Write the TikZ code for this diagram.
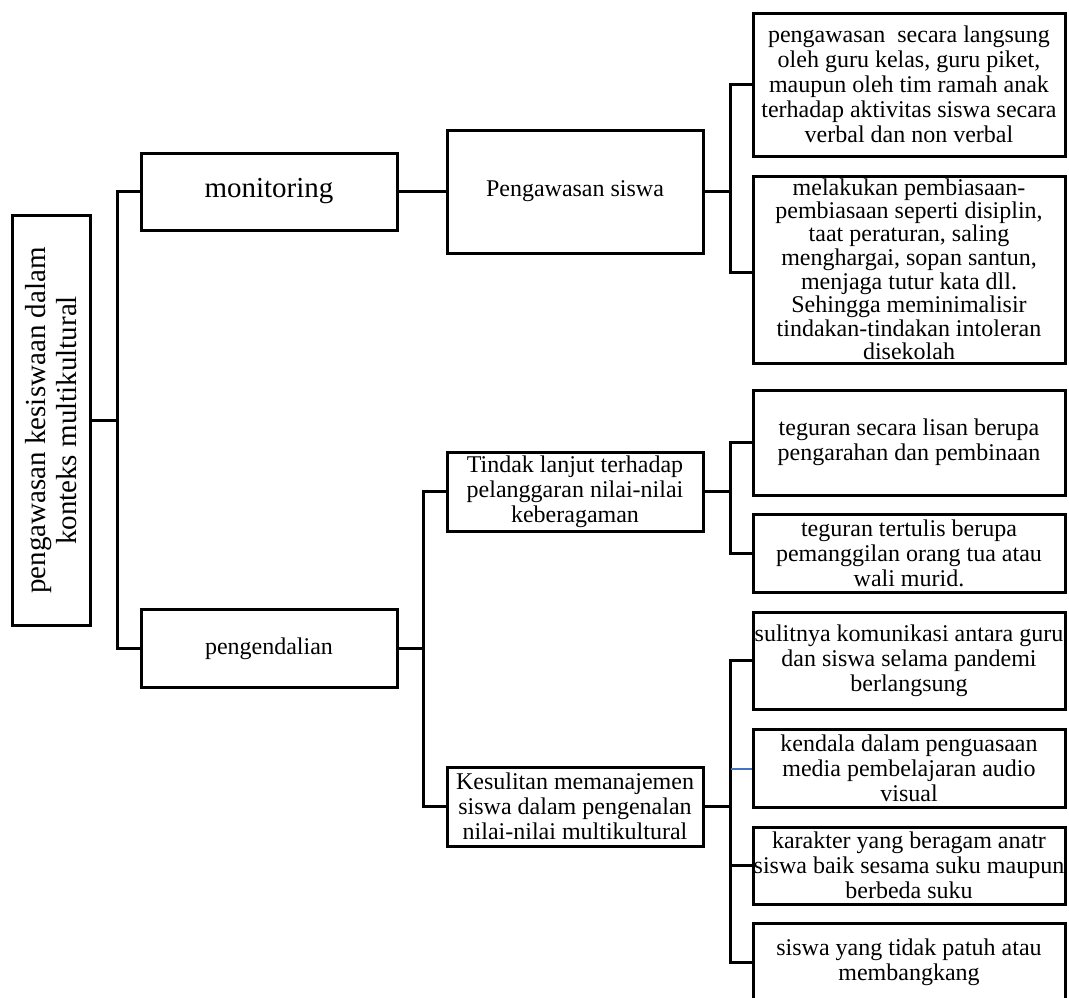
\documentclass[tikz,border=0pt]{standalone}
\usepackage{fontspec}
\setmainfont{Liberation Serif}
\definecolor{linkblue}{HTML}{4472C4}
\begin{document}
\begin{tikzpicture}[x=1pt,y=-1pt,
  box/.style={draw, line width=3pt, inner sep=0pt, align=center, font=\fontsize{24}{25}\selectfont},
  big/.style={font=\fontsize{29}{31}\selectfont},
  conn/.style={line width=3pt},
  connb/.style={line width=2pt, draw=linkblue}]
\useasboundingbox (0,0) rectangle (1069,997);

% level 0
\node[box, big, rotate=90, minimum width=410, minimum height=78] (root) at (51,420.5)
  {pengawasan kesiswaan dalam\\konteks multikultural};

% level 1
\node[box, big, minimum width=256, minimum height=77] (mon) at (269,191.5) {monitoring};
\node[box, minimum width=256, minimum height=78] (pen) at (269,648.5) {pengendalian};

% level 2
\node[box, minimum width=256, minimum height=123] (pws) at (575,191.5) {Pengawasan siswa};
\node[box, minimum width=256, minimum height=79] (tin) at (575,491.5)
  {Tindak lanjut terhadap\\pelanggaran nilai-nilai\\keberagaman};
\node[box, minimum width=256, minimum height=79] (kes) at (575,806.5)
  {Kesulitan memanajemen\\siswa dalam pengenalan\\nilai-nilai multikultural};

% level 3
\node[box, minimum width=312, minimum height=143] (r1) at (909,84.5)
  {pengawasan\ \ secara langsung\\oleh guru kelas, guru piket,\\maupun oleh tim ramah anak\\terhadap aktivitas siswa secara\\verbal dan non verbal};
\node[box, minimum width=312, minimum height=187, inner ysep=-8pt,
      font=\fontsize{24}{23.6}\selectfont] (r2) at (909,269.5)
  {\raisebox{-3pt}{melakukan pembiasaan-}\\pembiasaan seperti disiplin,\\taat peraturan, saling\\menghargai, sopan santun,\\menjaga tutur kata dll.\\Sehingga meminimalisir\\tindakan-tindakan intoleran\\disekolah};
\node[box, minimum width=312, minimum height=105] (r3) at (909,442.5)
  {teguran secara lisan berupa\\pengarahan dan pembinaan};
\node[box, minimum width=312, minimum height=78] (r4) at (909,553.5)
  {teguran tertulis berupa\\pemanggilan orang tua atau\\wali murid.};
\node[box, minimum width=312, minimum height=97] (r5) at (909,660.5)
  {sulitnya komunikasi antara guru\\dan siswa selama pandemi\\berlangsung};
\node[box, minimum width=312, minimum height=78] (r6) at (909,768.5)
  {kendala dalam penguasaan\\media pembelajaran audio\\visual};
\node[box, minimum width=312, minimum height=77] (r7) at (909,865.5)
  {karakter yang beragam anatr\\siswa baik sesama suku maupun\\berbeda suku};
\node[box, minimum width=312, minimum height=79] (r8) at (909,962.5)
  {siswa yang tidak patuh atau\\membangkang};

% connectors
\draw[conn] (root.south) -- ++(26,0) |- (mon.west);
\draw[conn] (root.south) -- ++(26,0) |- (pen.west);
\draw[conn] (mon.east) -- (pws.west);
\draw[conn] (pws.east) -- ++(26,0) |- ([yshift=-3pt]r2.west);
\draw[conn] (pws.east) -- ++(26,0) |- (r1.west);
\draw[conn] (pen.east) -- ++(25,0) |- (tin.west);
\draw[conn] (pen.east) -- ++(25,0) |- (kes.west);
\draw[conn] (tin.east) -- ++(26,0) |- (r3.west);
\draw[conn] (tin.east) -- ++(26,0) |- (r4.west);
\draw[conn] (kes.east) -- ++(26,0) coordinate (s3) |- (r5.west);
\draw[conn] (kes.east) -- ++(26,0) |- (r7.west);
\draw[conn] (kes.east) -- ++(26,0) |- (r8.west);
\draw[connb] (s3 |- r6.west) -- (r6.west);
\end{tikzpicture}
\end{document}
